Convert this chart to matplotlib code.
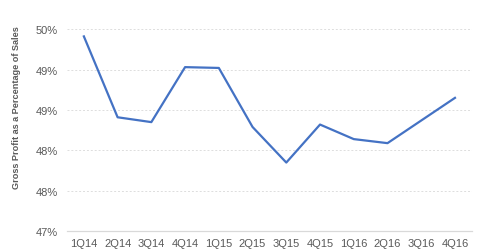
import matplotlib.pyplot as plt

# Gross profit margin by quarter
quarters = ['1Q14', '2Q14', '3Q14', '4Q14', '1Q15', '2Q15',
            '3Q15', '4Q15', '1Q16', '2Q16', '3Q16', '4Q16']
margin = [49.41, 48.41, 48.35, 49.03, 49.02, 48.29,
          47.85, 48.32, 48.14, 48.09, 48.37, 48.65]

y_ticks = [47.0, 47.5, 48.0, 48.5, 49.0, 49.5]
y_tick_labels = ['47%', '48%', '48%', '49%', '49%', '50%']

plt.rcParams['font.family'] = 'Liberation Sans'

fig = plt.figure(figsize=(4.8, 2.51), dpi=100)
ax = fig.add_axes([0.1396, 0.0745, 0.8434, 0.8055])

x = range(len(quarters))
ax.plot(x, margin, color='#4472C4', linewidth=1.6)

ax.set_xlim(-0.5, len(quarters) - 0.5)
ax.set_ylim(47.0, 49.5)
ax.set_xticks(list(x))
ax.set_xticklabels(quarters)
ax.set_yticks(y_ticks)
ax.set_yticklabels(y_tick_labels)

# dashed horizontal gridlines, solid base line
for t in y_ticks[1:]:
    ax.axhline(t, color='#DDDDDD', linestyle=(0, (2, 2)), linewidth=0.7, zorder=0)
for s in ['top', 'right', 'left']:
    ax.spines[s].set_visible(False)
ax.spines['bottom'].set_color('#D9D9D9')
ax.spines['bottom'].set_linewidth(0.9)

ax.tick_params(axis='both', length=0, labelsize=8, colors='#595959')
ax.tick_params(axis='y', pad=6.5)
ax.tick_params(axis='x', pad=5)

fig.text(17 / 480, 1 - 108 / 251, 'Gross Profit as a Percentage of Sales',
         rotation=90, ha='center', va='center', fontsize=6.6,
         fontweight='bold', color='#595959')

fig.savefig('out.png', dpi=100)
